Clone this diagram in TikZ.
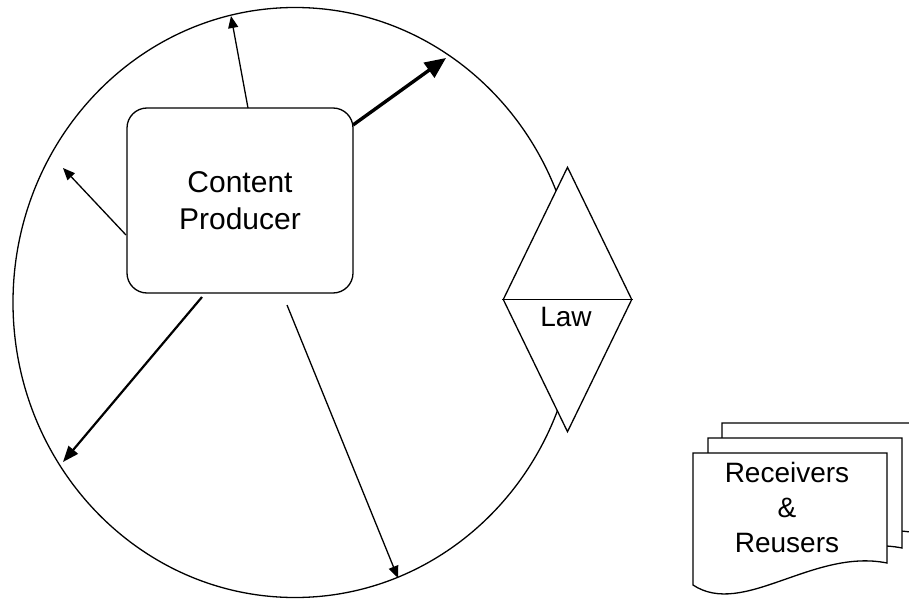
\documentclass[tikz,border=0pt]{standalone}
\usepackage{fontspec}
\setmainfont{Liberation Sans}
\usetikzlibrary{shapes.geometric,arrows.meta}
\begin{document}
\begin{tikzpicture}[x=1pt,y=-1pt,
  outline/.style={draw=black,line width=1.3pt},
  thinarrow/.style={draw=black,line width=1.3pt,-{Triangle[length=12pt,width=10pt]}},
  medarrow/.style={draw=black,line width=2.2pt,-{Triangle[length=16pt,width=12pt]}},
  thickarrow/.style={draw=black,line width=3.4pt,-{Triangle[length=21pt,width=18pt]}},
  bigfont/.style={font=\fontsize{30}{37}\selectfont},
  midfont/.style={font=\fontsize{28}{35}\selectfont},
  docpage/.pic={\draw[outline,fill=white] (0,0) -- (0,132)
      .. controls (50,165) and (120,95) .. (194,110) -- (194,0) -- cycle;}
]
\useasboundingbox (0,0) rectangle (909,599);
\clip (0,0) rectangle (909,599);

% world ellipse
\node[ellipse,outline,minimum width=564pt,minimum height=590pt,inner sep=0pt] (world) at (295,302.5) {};

% content producer
\node[outline,rounded corners=20pt,minimum width=226pt,minimum height=185pt,
      align=center,bigfont] (cp) at (240,200.5) {Content\\Producer};

% law diamond
\node[diamond,outline,fill=white,minimum width=129pt,minimum height=265pt,inner sep=0pt] (law) at (567.5,299.5) {};
\draw[outline] (law.west) -- (law.east);
\node[midfont,inner sep=0pt] (lawtxt) at (566,317.5) {Law};

% receivers & reusers stack
\pic at (722,423) {docpage};
\pic at (708,438) {docpage};
\pic at (693,453) {docpage};
\node[midfont,align=center,inner sep=0pt] (recv) at (787,507) {Receivers\\\&\\Reusers};

% arrow end points
\coordinate (s1) at (248,108);   \coordinate (e1) at (231,16);
\coordinate (s2) at (353,125);   \coordinate (e2) at (446,58);
\coordinate (s3) at (126,235);   \coordinate (e3) at (63,168);
\coordinate (s4) at (202,297);   \coordinate (e4) at (63,462);
\coordinate (s5) at (287,305);   \coordinate (e5) at (398,578);

\draw[thinarrow] (s1) -- (e1);
\draw[thickarrow] (s2) -- (e2);
\draw[thinarrow] (s3) -- (e3);
\draw[medarrow] (s4) -- (e4);
\draw[thinarrow] (s5) -- (e5);
\end{tikzpicture}
\end{document}
